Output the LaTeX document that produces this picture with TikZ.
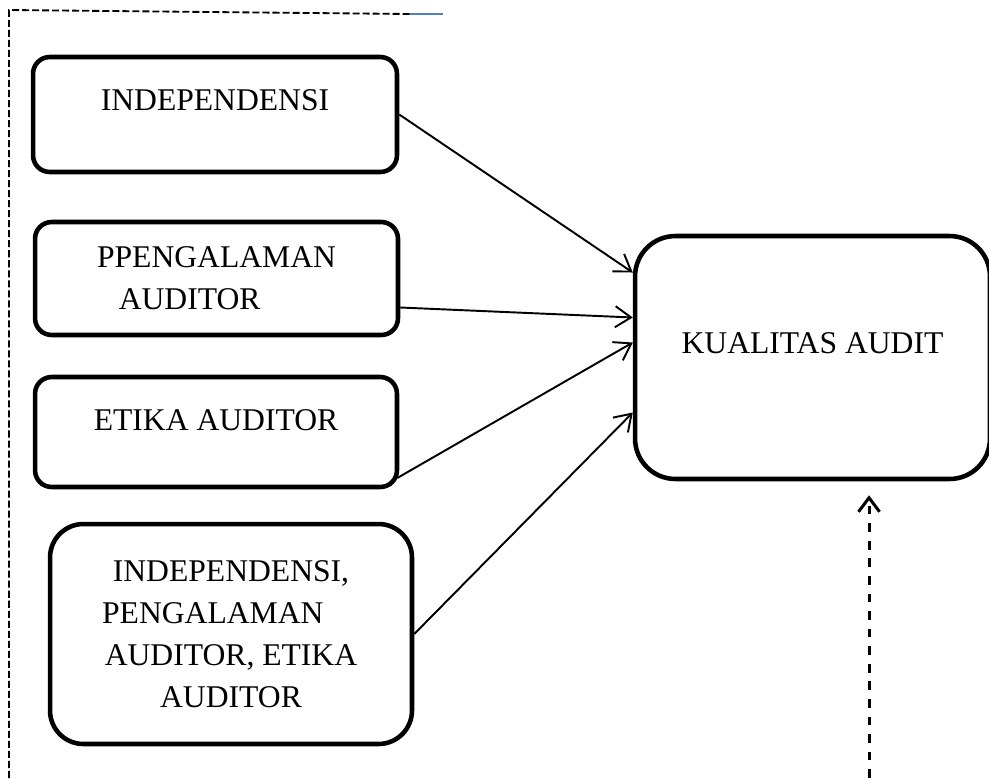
\documentclass[tikz,border=0pt]{standalone}
\usepackage{fontspec}
\setmainfont{Liberation Serif}
\usetikzlibrary{arrows.meta,calc}
\definecolor{wordblue}{RGB}{79,129,189}

\begin{document}
\begin{tikzpicture}[x=0.02cm, y=-0.02cm, every node/.style={font=\fontsize{18}{23.8}\selectfont, align=center}]

\tikzset{
    box/.style={draw, line width=2.6pt, rounded corners=#1, inner sep=0pt},
    box/.default=9.5pt,
    arr/.style={line width=1.1pt, -{Straight Barb[length=9pt, width=12pt]}},
    dasharr/.style={line width=1.7pt, dash pattern=on 5pt off 5pt, -{Straight Barb[length=8pt, width=12pt]}},
    frame/.style={line width=1.05pt, dash pattern=on 4pt off 1.7pt}
}

\useasboundingbox (0,0) rectangle (989,778);

% left column
\node[box, minimum width=7.28cm, minimum height=2.30cm, text depth=16.4pt] (ind) at (215,114.5) {INDEPENDENSI};
\node[box, minimum width=7.26cm, minimum height=2.26cm] (pen) at (216.5,278.5) {PPENGALAMAN\\AUDITOR\hspace*{1.7em}\null};
\node[box, minimum width=7.24cm, minimum height=2.20cm, text depth=13.6pt] (eti) at (216,432) {ETIKA AUDITOR};
\node[box=19pt, minimum width=7.24cm, minimum height=4.40cm] (gab) at (231,634) {INDEPENDENSI,\\PENGALAMAN\hspace*{1.15em}\null\\AUDITOR, ETIKA\\AUDITOR};

% dependent variable
\node[box=23pt, minimum width=7.10cm, minimum height=4.86cm, text depth=16.4pt] (kua) at (812.5,357.5) {KUALITAS AUDIT};

% arrows
\draw[arr] (ind.east) -- ($(kua.west)+(0,-85)$);
\draw[arr] ($(pen.east)+(0,29)$) -- ($(kua.west)+(0,-40)$);
\draw[arr] ($(eti.east)+(-2,46)$) -- ($(kua.west)+(0,-15)$);
\draw[arr] (gab.east) -- ($(kua.west)+(0,55)$);

\coordinate (src) at (869,778);
\draw[dasharr, shorten >=0.28cm] (src) -- (src |- kua.south);

% outer frame
\coordinate (fbl) at (9,778);
\coordinate (ftl) at (9,10);
\coordinate (ftr) at (410,14);
\draw[frame] (fbl) -- (ftl) -- (ftr);
\draw[wordblue, line width=0.9pt] (ftr) -- ++(33,0);

\end{tikzpicture}
\end{document}
